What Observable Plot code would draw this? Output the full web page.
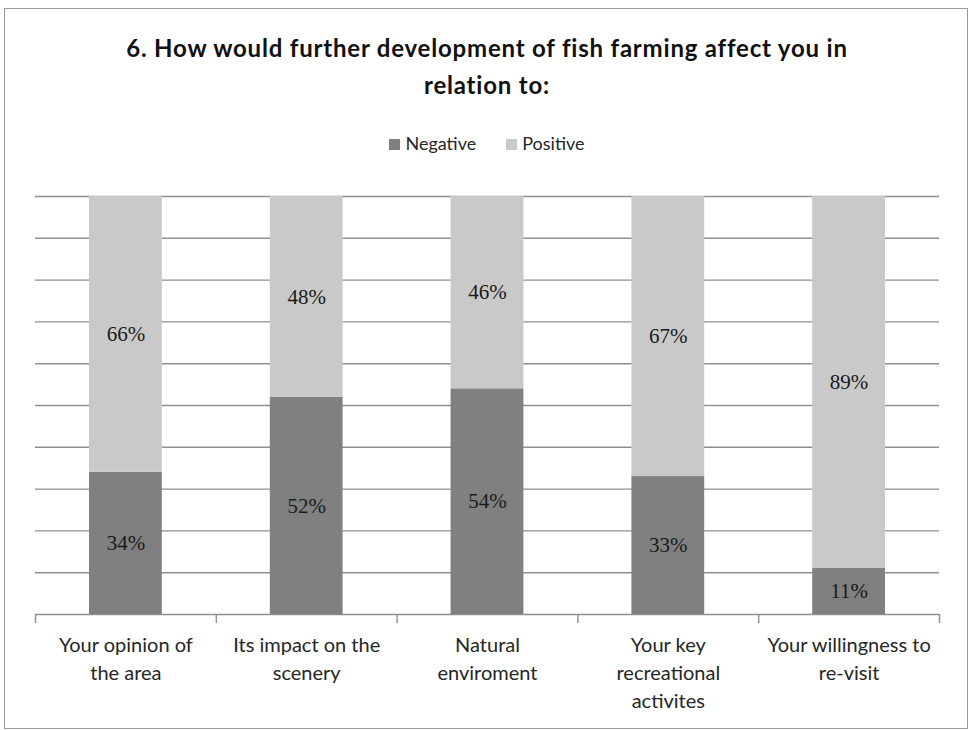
<!DOCTYPE html>
<html>
<head>
<meta charset="utf-8">
<script src="https://cdn.jsdelivr.net/npm/d3@7"></script>
<script src="https://cdn.jsdelivr.net/npm/@observablehq/plot@0.6"></script>
<style>
  html, body { margin: 0; padding: 0; background: #fff; }
  body { width: 974px; height: 730px; position: relative; overflow: hidden; }
  .frame { position: absolute; left: 4px; top: 8px; width: 964px; height: 721px; box-sizing: border-box; border: 1.5px solid #9a9a9a; }
  .title { position: absolute; left: 0; top: 29px; width: 974px; text-align: center; font-family: Lato, "Open Sans", sans-serif; font-weight: bold; font-size: 24px; letter-spacing: 0.8px; line-height: 37px; color: #111; }
  .legend { position: absolute; left: 0; top: 132px; width: 974px; text-align: center; font-family: Lato, "Open Sans", sans-serif; font-size: 18px; color: #262626; }
  .legend span.item { display: inline-block; margin: 0 15px; }
  .legend span.sw { display: inline-block; width: 11px; height: 11px; margin-right: 5px; vertical-align: 0px; }
  #chart { position: absolute; left: 0; top: 180px; }
</style>
</head>
<body>
<div class="frame"></div>
<div class="title">6. How would further development of fish farming affect you in<br>relation to:</div>
<div class="legend" id="legend"></div>
<div id="chart"></div>
<script>
const categories = [
  "Your opinion of\nthe area",
  "Its impact on the\nscenery",
  "Natural\nenviroment",
  "Your key\nrecreational\nactivites",
  "Your willingness to\nre-visit"
];
const series = ["Negative", "Positive"];
const colors = ["#808080", "#c9c9c9"];
const negative = [34, 52, 54, 33, 11];
const positive = [66, 48, 46, 67, 89];
const gridTicks = [0, 10, 20, 30, 40, 50, 60, 70, 80, 90, 100];

// table
const data = [];
categories.forEach((c, i) => {
  data.push({i, category: c, series: "Negative", value: negative[i], mid: negative[i] / 2});
  data.push({i, category: c, series: "Positive", value: positive[i], mid: negative[i] + positive[i] / 2});
});
const boundaries = d3.range(categories.length + 1);
const centers = categories.map((c, i) => i + 0.5);

// legend
const legend = document.getElementById("legend");
series.forEach((s, k) => {
  const it = document.createElement("span");
  it.className = "item";
  it.innerHTML = `<span class="sw" style="background:${colors[k]}"></span>${s}`;
  legend.appendChild(it);
});

const gridColor = "#8f8f8f";
const chart = Plot.plot({
  width: 974,
  height: 548,
  marginLeft: 35,
  marginRight: 35,
  marginTop: 16,
  marginBottom: 114,
  style: { background: "transparent", fontFamily: "Lato, 'Open Sans', sans-serif" },
  x: { domain: [0, categories.length], label: null },
  y: { domain: [0, 100], label: null, axis: null },
  color: { domain: series, range: colors },
  marks: [
    Plot.ruleY(gridTicks, { stroke: gridColor, strokeWidth: 1.4 }),
    Plot.rectY(data, {
      x1: d => d.i, x2: d => d.i + 1, y: "value", fill: "series",
      insetLeft: 54, insetRight: 54
    }),
    Plot.text(data, {
      x: d => d.i + 0.5, y: "mid", text: d => d.value + "%",
      fontFamily: "'Liberation Serif', 'Times New Roman', serif", fontSize: 21, fill: "#1a1a1a"
    }),
    Plot.axisX({ ticks: boundaries, tickFormat: () => "", tickSize: 9, stroke: gridColor, strokeWidth: 1.4, label: null }),
    Plot.axisX({
      ticks: centers, tickFormat: v => categories[Math.floor(v)], tickSize: 0, tickPadding: 18,
      fontSize: 20, lineHeight: 1.4, fill: "#262626", label: null
    })
  ]
});
document.getElementById("chart").appendChild(chart);
</script>
</body>
</html>
